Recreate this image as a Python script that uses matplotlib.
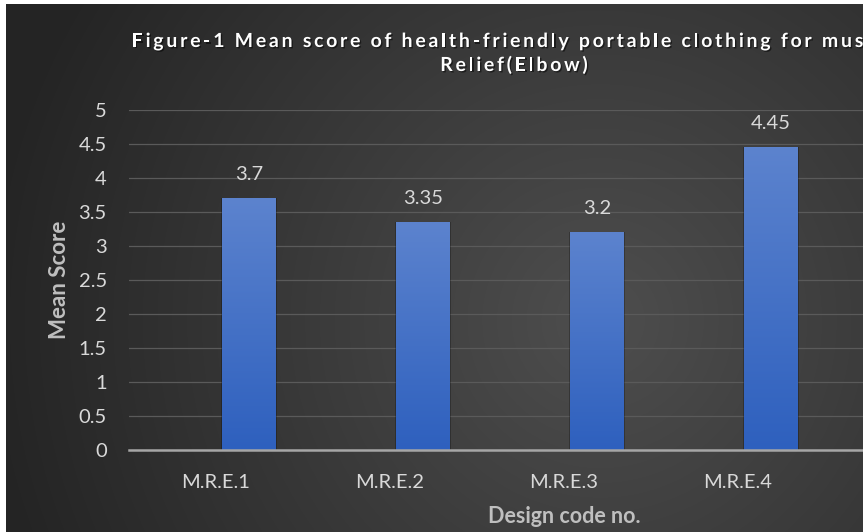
import matplotlib
matplotlib.use("Agg")
import matplotlib.pyplot as plt
import matplotlib.patheffects as pe
import numpy as np

# data
designs = ["M.R.E.1", "M.R.E.2", "M.R.E.3", "M.R.E.4"]
mean_scores = [3.7, 3.35, 3.2, 4.45]
y_ticks = [0, 0.5, 1, 1.5, 2, 2.5, 3, 3.5, 4, 4.5, 5]
title_lines = ["Figure-1 Mean score of health-friendly portable clothing for muscle",
               "Relief(Elbow)"]

W, H = 863, 532
plt.rcParams['font.family'] = ['Lato', 'DejaVu Sans']

fig = plt.figure(figsize=(W / 100, H / 100), dpi=100, facecolor='white')

# dark radial background, small white strip top/left like the cropped original
bg = fig.add_axes([6 / W, 0, 1 - 6 / W, 1 - 4 / H], zorder=-2)
bg.axis('off')
px, py = np.meshgrid(np.arange(6, W), np.arange(4, H))
d = np.hypot(px - 600, py - 320)
v = (78 - 42 * np.clip(d / 620, 0, 1)) / 255.0
bg.imshow(np.dstack([v, v, v]), aspect='auto', interpolation='bilinear')

# plot area: 5 category slots, the last one falls outside the cropped image
ax = fig.add_axes([129 / W, 82 / H, 870 / W, 340 / H])
ax.set_facecolor('none')
ax.set_xlim(-0.5, 4.5)
ax.set_ylim(0, 5)
ax.set_yticks(y_ticks)
ax.set_yticklabels([f"{t:g}" for t in y_ticks])
ax.set_xticks(np.arange(len(designs)))
ax.set_xticklabels(designs)
ax.tick_params(axis='both', length=0, labelsize=14.5, colors='#d9d9d9')
ax.tick_params(axis='y', pad=16)
ax.tick_params(axis='x', pad=17)
ax.grid(axis='y', color='#5a5a5a', linewidth=0.9)
ax.set_axisbelow(True)
for s in ['top', 'right', 'left']:
    ax.spines[s].set_visible(False)
ax.spines['bottom'].set_color('#a6a6a6')
ax.spines['bottom'].set_linewidth(1.8)
ax.spines['bottom'].set_zorder(5)

x = np.arange(len(designs)) + 0.19
bw = 0.31

# soft shadow under the bars
ax.bar(x, mean_scores, width=bw + 0.014, color='black', alpha=0.25, zorder=2)
bars = ax.bar(x, mean_scores, width=bw, color='#4472c4', zorder=3)

top = np.array([92, 131, 206]) / 255.0
bot = np.array([46, 96, 190]) / 255.0
grad = np.linspace(0, 1, 256)[:, None]
grad_img = (top[None, None, :] * (1 - grad[..., None]) + bot[None, None, :] * grad[..., None])
for b in bars:
    x0, w, h = b.get_x(), b.get_width(), b.get_height()
    im = ax.imshow(grad_img, extent=(x0, x0 + w, 0, h), aspect='auto',
                   zorder=4, interpolation='bilinear')
    im.set_clip_path(b)

for xi, val in zip(x, mean_scores):
    ax.annotate(f"{val:g}", (xi, val), xytext=(0, 13), textcoords='offset points',
                ha='center', va='baseline', fontsize=14.5, color='#d9d9d9')

ax.set_xlim(-0.5, 4.5)
ax.set_ylim(0, 5)

ax.set_ylabel("Mean Score", fontsize=16, fontweight='bold', color='#bfbfbf', labelpad=6)
ax.set_xlabel("Design code no.", fontsize=15.5, fontweight='bold', color='#bfbfbf', labelpad=11)

# title with letter spacing, drawn char by char
renderer = fig.canvas.get_renderer()
tkw = dict(fontsize=14, fontweight='bold', color='white')
shadow = [pe.withSimplePatchShadow(offset=(1, -1), shadow_rgbFace='black', alpha=0.5)]


def text_width(s):
    t = fig.text(0, 0, s, **tkw)
    wd = t.get_window_extent(renderer=renderer).width
    t.remove()
    return wd


def spaced_text(s, xc, y_base, spacing):
    base = text_width("xx")
    widths = [text_width("x" + ch + "x") - base for ch in s]
    total = sum(widths) + spacing * (len(s) - 1)
    xp = xc - total / 2
    for ch, cw in zip(s, widths):
        # the original chart is cropped at the right edge; skip letters past it
        if ch != ' ' and xp < W:
            fig.text(xp / W, 1 - y_base / H, ch, ha='left', va='baseline',
                     path_effects=shadow, **tkw)
        xp += cw + spacing


spaced_text(title_lines[0], 514, 47, 2.7)
spaced_text(title_lines[1], 514, 71, 2.7)

fig.savefig("out.png", dpi=100)
plt.close(fig)
